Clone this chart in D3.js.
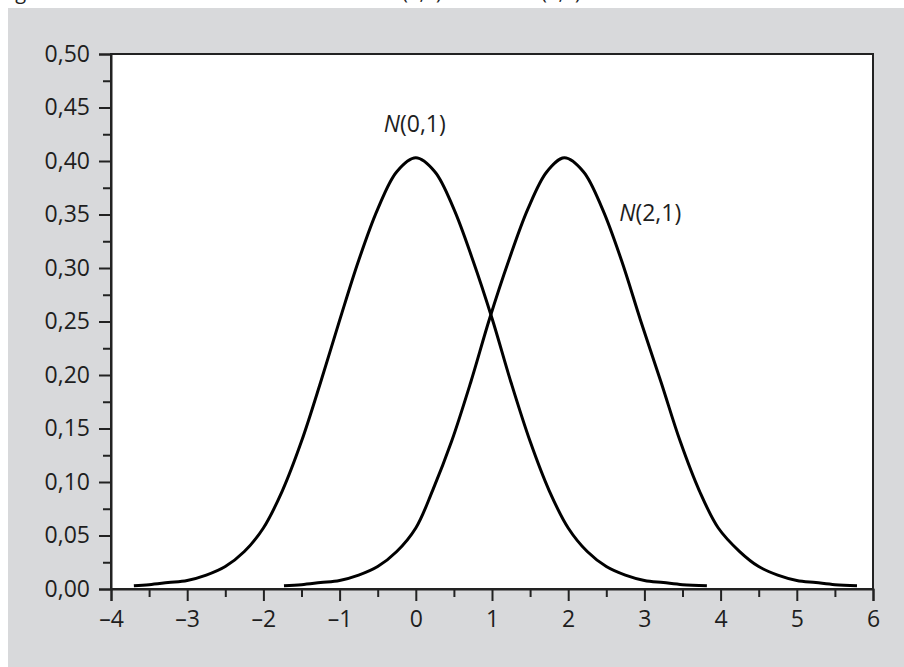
<!DOCTYPE html>
<html>
<head>
<meta charset="utf-8">
<script src="https://cdn.jsdelivr.net/npm/d3@7"></script>
<style>
  body { margin: 0; background: #fff; }
  svg { display: block; font-family: "Open Sans", sans-serif; }
</style>
</head>
<body>
<div id="chart"></div>
<script>
/**
 * Data
 */
// N(0,1) curve, x then y
const n0X = [-3.7, -3.5, -3.25, -3, -2.75, -2.5, -2.25, -2, -1.75, -1.5, -1.25, -1, -0.75, -0.5, -0.25, 0,
             0.25, 0.5, 0.75, 1, 1.25, 1.5, 1.75, 2, 2.25, 2.5, 2.75, 3, 3.25, 3.5, 3.82];
const n0Y = [0.003, 0.004, 0.006, 0.008, 0.013, 0.021, 0.035, 0.057, 0.092, 0.138, 0.193, 0.251, 0.307, 0.355, 0.390, 0.403,
             0.390, 0.355, 0.307, 0.253, 0.193, 0.138, 0.092, 0.057, 0.035, 0.021, 0.013, 0.008, 0.006, 0.004, 0.003];
// N(2,1) curve
const n2X = [-1.73, -1.5, -1.25, -1, -0.75, -0.5, -0.25, 0, 0.22, 0.47, 0.72, 0.97, 1.22, 1.47, 1.72, 1.95,
             2.2, 2.45, 2.7, 2.95, 3.22, 3.47, 3.72, 3.97, 4.25, 4.5, 4.75, 5, 5.25, 5.5, 5.79];
const n2Y = [0.003, 0.004, 0.006, 0.008, 0.013, 0.021, 0.035, 0.057, 0.092, 0.138, 0.193, 0.253, 0.307, 0.355, 0.390, 0.403,
             0.390, 0.355, 0.307, 0.251, 0.193, 0.138, 0.092, 0.057, 0.035, 0.021, 0.013, 0.008, 0.006, 0.004, 0.003];

// ticks
const xMajor = [-4, -3, -2, -1, 0, 1, 2, 3, 4, 5, 6];
const xMinor = [-3.5, -2.5, -1.5, -0.5, 0.5, 1.5, 2.5, 3.5, 4.5, 5.5];
const yMajor = [0, 0.05, 0.10, 0.15, 0.20, 0.25, 0.30, 0.35, 0.40, 0.45, 0.50];
const yMinor = [0.025, 0.075, 0.125, 0.175, 0.225, 0.275, 0.325, 0.375, 0.425, 0.475];

// curve labels
const labels = [
    { name: "N", rest: "(0,1)", x: -0.42, y: 0.427 },
    { name: "N", rest: "(2,1)", x: 2.67, y: 0.344 }
];

/**
 * Sizes
 */
const WIDTH = 904, HEIGHT = 667;

const svg = d3.select("#chart").append("svg")
    .attr("width", WIDTH)
    .attr("height", HEIGHT);

// grey panel
svg.append("rect")
    .attr("x", 8).attr("y", 8)
    .attr("width", WIDTH - 8).attr("height", HEIGHT - 8)
    .style("fill", "#d8d9db");

// caption above the panel, only its lowest part is in view
let caption = svg.append("text")
    .attr("y", -1.5)
    .style("font-size", "20px")
    .style("fill", "#222");
caption.append("tspan").attr("x", 0).text("Fig");
caption.append("tspan").attr("x", 388).style("font-style", "italic").text("N");
caption.append("tspan").text("(0,1)");
caption.append("tspan").attr("x", 527).style("font-style", "italic").text("N");
caption.append("tspan").text("(2,1)");

const x = d3.scaleLinear().domain([-4, 6]).range([111, 873]);
const y = d3.scaleLinear().domain([0, 0.5]).range([589, 54]);

// plot area
svg.append("rect")
    .attr("x", x(-4)).attr("y", y(0.5))
    .attr("width", x(6) - x(-4)).attr("height", y(0) - y(0.5))
    .style("fill", "#fff")
    .style("stroke", "#222")
    .style("stroke-width", 2);

const fmtY = d => d3.format(".2f")(d).replace(".", ",");
const fmtX = d => d < 0 ? "\u2013" + Math.abs(d) : String(d);

// minor ticks first
svg.append("g")
    .attr("transform", "translate(0," + y(0) + ")")
    .call(d3.axisBottom(x).tickValues(xMinor).tickSize(8).tickFormat(""))
    .call(g => g.select(".domain").remove());
svg.append("g")
    .attr("transform", "translate(" + x(-4) + ",0)")
    .call(d3.axisLeft(y).tickValues(yMinor).tickSize(8).tickFormat(""))
    .call(g => g.select(".domain").remove());

let xAxis = svg.append("g")
    .attr("transform", "translate(0," + y(0) + ")")
    .call(d3.axisBottom(x).tickValues(xMajor).tickSize(12).tickPadding(10).tickFormat(fmtX));
let yAxis = svg.append("g")
    .attr("transform", "translate(" + x(-4) + ",0)")
    .call(d3.axisLeft(y).tickValues(yMajor).tickSize(12).tickPadding(9).tickFormat(fmtY));

svg.selectAll(".tick line").style("stroke", "#222").style("stroke-width", 2);
svg.selectAll(".domain").style("stroke", "#222").style("stroke-width", 2);
svg.selectAll(".tick text")
    .style("font-family", "'Open Sans', sans-serif")
    .style("font-size", "23px")
    .style("fill", "#1e1e1e");

// curves
const line = d3.line()
    .x(d => x(d[0]))
    .y(d => y(d[1]))
    .curve(d3.curveCatmullRom.alpha(0.5));

const series = [d3.zip(n0X, n0Y), d3.zip(n2X, n2Y)];

svg.selectAll("path.curve")
    .data(series)
    .enter()
    .append("path")
    .attr("class", "curve")
    .attr("d", line)
    .style("fill", "none")
    .style("stroke", "#000")
    .style("stroke-width", 3);

// labels
let lab = svg.selectAll("text.lab")
    .data(labels)
    .enter()
    .append("text")
    .attr("class", "lab")
    .attr("x", d => x(d.x))
    .attr("y", d => y(d.y))
    .style("font-size", "23px")
    .style("fill", "#1e1e1e");
lab.append("tspan").style("font-style", "italic").text(d => d.name);
lab.append("tspan").text(d => d.rest);
</script>
</body>
</html>
